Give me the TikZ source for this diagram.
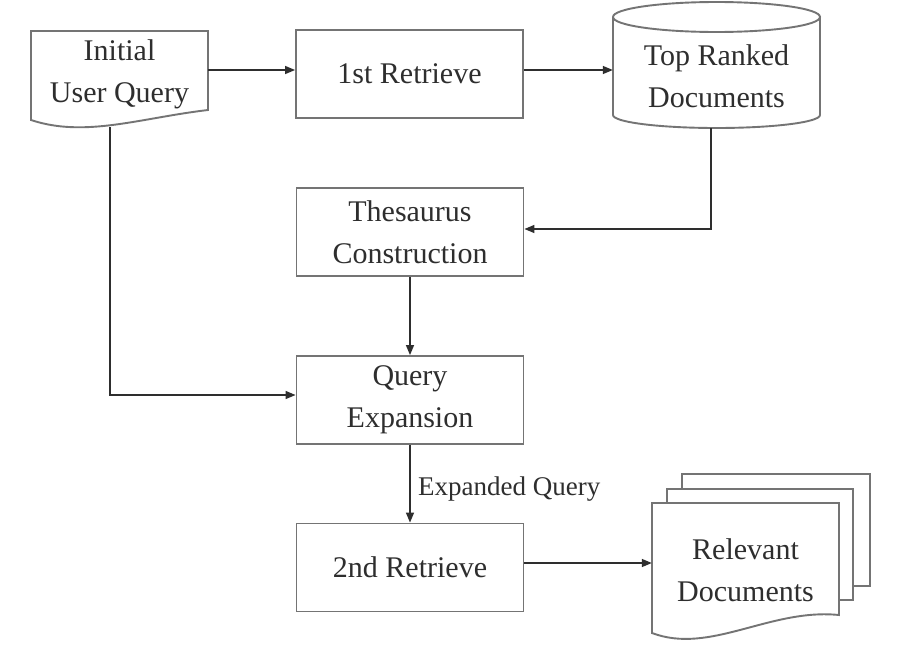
\documentclass[tikz,border=0pt]{standalone}
\usepackage{fontspec}
\setmainfont{Liberation Serif}
\usetikzlibrary{arrows.meta}
\definecolor{edge}{HTML}{747474}
\definecolor{ink}{HTML}{2E2E2E}
\tikzset{
  box/.style={draw=edge, line width=1.9pt, minimum width=227pt, minimum height=88pt, align=center, inner sep=0pt, text=ink, font=\fontsize{30}{42}\selectfont},
  ghost/.style={align=center, inner sep=0pt, text=ink, font=\fontsize{30}{42}\selectfont},
  outline/.style={draw=edge, line width=1.9pt, fill=white},
  conn/.style={draw=ink, line width=1.4pt, -{Triangle[length=10pt,width=8pt]}},
  lbl/.style={text=ink, font=\fontsize{27}{30}\selectfont, inner sep=0pt, anchor=west}
}
\begin{document}
\begin{tikzpicture}[x=1pt,y=1pt]
\useasboundingbox[fill=white] (0,0) rectangle (915,-648);
% Initial user query (document shape)
\path[outline] (31,-31) -- (208,-31) -- (208,-110) .. controls (140,-118) and (85,-138) .. (31,-120) -- cycle;
\node[ghost, minimum width=177pt, minimum height=80pt] (iq) at (119.5,-74) {Initial\\User Query};
% Boxes
\node[box] (r1) at (409.5,-74) {1st Retrieve};
\node[box] (th) at (410,-232) {Thesaurus\\Construction};
\node[box] (qe) at (410,-400) {Query\\Expansion};
\node[box] (r2) at (410,-567.5) {2nd Retrieve};
% Cylinder
\path[outline] (613,-17) -- (613,-115) arc[start angle=180,end angle=360,x radius=103.5,y radius=13] -- (820,-17);
\draw[edge, line width=1.9pt] (716.5,-17) ellipse[x radius=103.5, y radius=15];
\node[ghost, minimum width=207pt, minimum height=80pt] (tr) at (716.5,-76) {Top Ranked\\Documents};
\coordinate (trb) at (711,-128);
% Relevant documents (stack)
\path[outline] (682,-474) rectangle (870,-586);
\path[outline] (667,-489) rectangle (853,-600);
\path[outline] (652,-503) -- (839,-503) -- (839,-615) .. controls (770,-608) and (710,-655) .. (652,-633) -- cycle;
\node[ghost, minimum width=187pt, minimum height=100pt] (rd) at (745.5,-570) {Relevant\\Documents};
% Connectors
\draw[conn] (iq.east |- 0,-70) -- (r1.west |- 0,-70);
\draw[conn] (r1.east |- 0,-70) -- (tr.west |- 0,-70);
\draw[conn] (trb) -- (trb |- 0,-229) -- (th.east |- 0,-229);
\draw[conn] (th.south) -- (qe.north);
\coordinate (iqb) at (110,-127);
\draw[conn] (iqb) -- (iqb |- 0,-395) -- (qe.west |- 0,-395);
\draw[conn] (qe.south) -- (r2.north);
\node[lbl] (eq) at (418,-489) {Expanded Query};
\draw[conn] (r2.east |- 0,-563) -- (rd.west |- 0,-563);
\end{tikzpicture}
\end{document}
